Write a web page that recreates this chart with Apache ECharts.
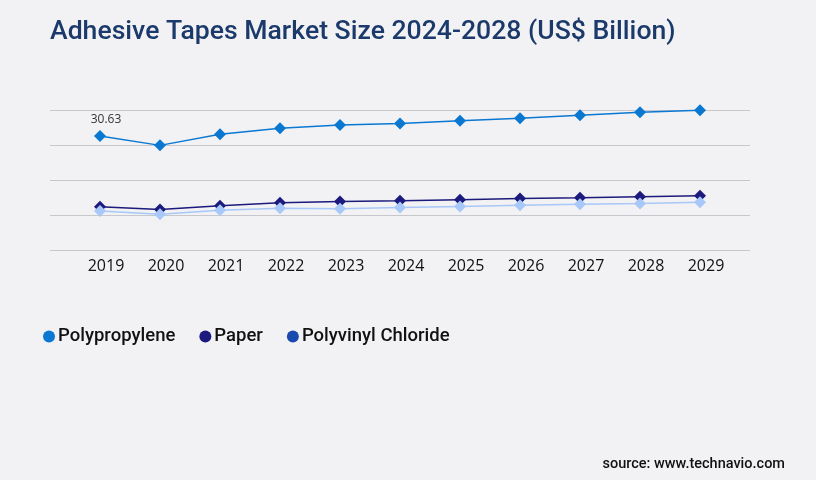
<!DOCTYPE html>
<html>
<head>
<meta charset="utf-8">
<script src="https://cdn.jsdelivr.net/npm/echarts@6/dist/echarts.min.js"></script>
<style>
  html, body { margin: 0; padding: 0; background: #f2f2f4; }
  #chart { width: 816px; height: 480px; }
</style>
</head>
<body>
<div id="chart"></div>
<script>
// values
var years = ['2019', '2020', '2021', '2022', '2023', '2024', '2025', '2026', '2027', '2028', '2029'];
var polypropylene = [30.63, 28.1, 31.1, 32.7, 33.6, 34.0, 34.7, 35.4, 36.2, 37.0, 37.5];
var paper = [11.6, 10.9, 11.9, 12.7, 13.0, 13.2, 13.5, 13.8, 14.0, 14.3, 14.6];
var polyvinylChloride = [10.5, 9.6, 10.7, 11.2, 11.1, 11.4, 11.7, 12.0, 12.3, 12.5, 12.8];

var yMin = 0, yMax = 37.6, yStep = 9.4;

var chart = echarts.init(document.getElementById('chart'));

function lineSeries(name, data, lineColor, iconColor, showFirstLabel) {
    return {
        name: name,
        type: 'line',
        xAxisIndex: 1,
        yAxisIndex: 1,
        data: data.map(function (v, i) {
            var item = { value: v };
            if (showFirstLabel && i === 0) {
                item.label = {
                    show: true, position: 'top', distance: 4, offset: [6, 0],
                    formatter: function (p) { return p.value.toFixed(2); },
                    color: '#333', fontSize: 12, fontFamily: 'Open Sans'
                };
            }
            return item;
        }),
        symbol: 'diamond',
        symbolSize: 12,
        lineStyle: { color: lineColor, width: 1.5 },
        itemStyle: { color: lineColor },
        emphasis: { disabled: true },
        animation: false,
        legendColor: iconColor
    };
}

var series = [
    lineSeries('Polypropylene', polypropylene, '#0a78d1', '#0a78d1', true),
    lineSeries('Paper', paper, '#1c1a7c', '#1c1a7c', false),
    lineSeries('Polyvinyl Chloride', polyvinylChloride, '#a7c8f8', '#1a4aad', false)
];

var option = {
    backgroundColor: '#f2f2f4',
    title: {
        text: 'Adhesive Tapes Market Size 2024-2028 (US$ Billion)',
        left: 45, top: 14,
        textStyle: { color: '#1b3a6b', fontSize: 26.6, fontWeight: 500, fontFamily: 'Roboto' }
    },
    legend: {
        left: 38, top: 322,
        itemWidth: 12, itemHeight: 12, itemGap: 24,
        icon: 'circle',
        textStyle: { color: '#111', fontSize: 18.5, fontWeight: 500, fontFamily: 'Roboto', padding: [0, 0, 0, -2] },
        data: series.map(function (s) {
            return { name: s.name, itemStyle: { color: s.legendColor } };
        })
    },
    grid: [
        { left: 50, right: 66, top: 110, height: 140 },
        { left: 100, right: 116, top: 110, height: 140 }
    ],
    xAxis: [
        { type: 'category', gridIndex: 0, data: years, show: false },
        {
            type: 'category', gridIndex: 1, data: years, boundaryGap: false,
            axisLine: { show: false }, axisTick: { show: false },
            axisLabel: { color: '#111', fontSize: 16, fontFamily: 'Open Sans', margin: 8, padding: [0, 0, 0, 12] }
        }
    ],
    yAxis: [
        {
            type: 'value', gridIndex: 0, min: yMin, max: yMax, interval: yStep,
            axisLabel: { show: false }, axisLine: { show: false }, axisTick: { show: false },
            splitLine: { lineStyle: { color: '#c8c8cc', width: 1 } }
        },
        {
            type: 'value', gridIndex: 1, min: yMin, max: yMax, interval: yStep,
            show: false, splitLine: { show: false }
        }
    ],
    graphic: [{
        type: 'text', right: 31, top: 457,
        style: { text: 'source: www.technavio.com', fill: '#111', fontSize: 14.5, fontWeight: 500, fontFamily: 'Roboto' }
    }],
    series: series
};

chart.setOption(option);
</script>
</body>
</html>
